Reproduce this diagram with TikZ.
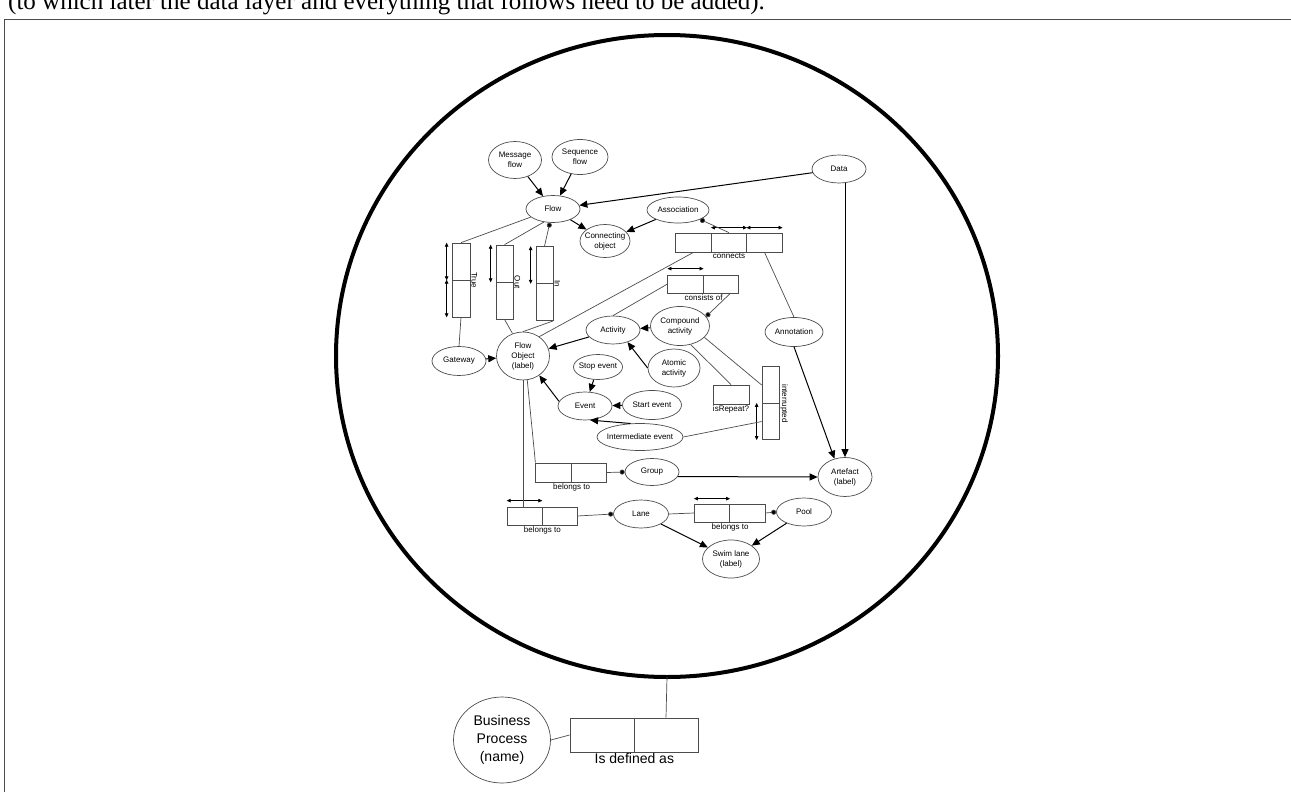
\documentclass[tikz,border=0pt]{standalone}
\usepackage{fontspec}
\setmainfont{Liberation Serif}
\setsansfont{Liberation Sans}
\usepackage{tikz}
\tikzset{every picture/.style={/utils/exec={\sffamily}}}
\usetikzlibrary{positioning, shapes.geometric, arrows.meta}
\definecolor{line_grey}{rgb}{0.3, 0.3, 0.3}
\tikzset{
  concept/.style 2 args={ellipse, draw=line_grey, line width=0.7pt, minimum width=#1pt, minimum height=#2pt,
    inner xsep=-4pt, inner ysep=0pt, align=center, font=\fontsize{8}{10}\selectfont},
  role/.style 2 args={draw=line_grey, line width=0.7pt, minimum width=#1pt, minimum height=#2pt, inner sep=0pt},
  rolename/.style={font=\fontsize{8}{10}\selectfont, inner sep=1pt},
  isa/.style={-{Triangle[length=8pt, width=7pt]}, line width=1pt},
  has/.style={-{Circle[length=5pt, fill=black]}, line width=0.7pt, line_grey},
  link/.style={line width=0.7pt, line_grey},
  span/.style={{Triangle[length=4pt, width=3.5pt]}-{Triangle[length=4pt, width=3.5pt]}, line width=0.7pt}
}

\begin{document}
\begin{tikzpicture}[x=1pt, y=-1pt]
  \useasboundingbox (0,0) rectangle (1291,792);
  % page frame and the cut-off note above it
  \node[anchor=base west, inner sep=0pt, font=\rmfamily\fontsize{25}{30}\selectfont] (note) at (8,10)
    {(to which later the data layer and everything that follows need to be added).};
  \draw[line_grey, line width=1pt] (4,792) -- (4,20) -- (1291,20);

  % the process model
  \node[ellipse, draw, line width=4pt, minimum width=662pt, minimum height=642pt, inner sep=0pt, outer sep=0pt] (model) at (667,356) {};

  \node[concept={53}{37}] (msgflow) at (515,160) {Message\\flow};
  \node[concept={56}{35}] (seqflow) at (580,157) {Sequence\\flow};
  \node[concept={54}{27}] (flow) at (553,209) {Flow};
  \node[concept={50}{33}] (connobj) at (605,241) {Connecting\\object};
  \node[concept={62}{26}] (assoc) at (678,210) {Association};
  \node[concept={54}{28}] (data) at (839,169) {Data};
  \node[concept={54}{28}] (activity) at (613,330) {Activity};
  \node[concept={59}{39}] (compound) at (680,326) {Compound\\activity};
  \node[concept={52}{38}] (atomic) at (674,368) {Atomic\\activity};
  \node[concept={53}{48}] (flowobj) at (523,356) {Flow\\Object\\(label)};
  \node[concept={54}{29}] (gateway) at (459,361) {Gateway};
  \node[concept={49}{25}] (stopev) at (598,367) {Stop event};
  \node[concept={54}{28}] (event) at (585,406) {Event};
  \node[concept={59}{29}] (startev) at (652,405) {Start event};
  \node[concept={86}{27}] (interev) at (640,437) {Intermediate event};
  \node[concept={58}{29}] (annot) at (794,332) {Annotation};
  \node[concept={54}{39}] (artefact) at (845,477) {Artefact\\(label)};
  \node[concept={54}{27}] (group) at (652,472) {Group};
  \node[concept={55}{28}] (lane) at (641,514) {Lane};
  \node[concept={55}{28}] (pool) at (804,512) {Pool};
  \node[concept={57}{38}] (swimlane) at (731,559) {Swim lane\\(label)};

  % role boxes
  \node[role={35.5}{19}] (con1) at (693.5,242.5) {};
  \node[role={35.5}{19}] (con2) at (729,242.5) {};
  \node[role={35.5}{19}] (con3) at (764.5,242.5) {};
  \node[rolename, below=0pt of con2] (conname) {connects};
  \node[role={35.5}{18}] (cns1) at (685.5,284) {};
  \node[role={35.5}{18}] (cns2) at (721,284) {};
  \node[rolename, below=0pt of cns1.south east] (cnsname) {consists of};
  \node[role={35.5}{19}] (bel1a) at (553.5,472.5) {};
  \node[role={35.5}{19}] (bel1b) at (589,472.5) {};
  \node[rolename, below=0pt of bel1a.south east] (bel1name) {belongs to};
  \node[role={35}{18}] (bel2a) at (524.5,516) {};
  \node[role={35}{18}] (bel2b) at (559.5,516) {};
  \node[rolename, below=0pt of bel2a.south east] (bel2name) {belongs to};
  \node[role={35.5}{18}] (bel3a) at (712,513) {};
  \node[role={35.5}{18}] (bel3b) at (747.5,513) {};
  \node[rolename, below=0pt of bel3a.south east] (bel3name) {belongs to};
  \node[role={36}{19}] (rep) at (731,394.5) {};
  \node[rolename, below=0pt of rep] (repname) {isRepeat?};
  \node[role={17}{36.5}] (int1) at (770.5,385) {};
  \node[role={17}{36.5}] (int2) at (770.5,421.5) {};
  \node[rolename, rotate=-90, anchor=south] (intname) at (int1.south east) {interrupted};
  \node[role={18}{37}] (tru1) at (461,261.5) {};
  \node[role={18}{37}] (tru2) at (461,298.5) {};
  \node[rolename, rotate=-90, anchor=south] (truname) at (tru1.south east) {True};
  \node[role={17}{37}] (out1) at (504.5,263.5) {};
  \node[role={17}{37}] (out2) at (504.5,300.5) {};
  \node[rolename, rotate=-90, anchor=south] (outname) at (out1.south east) {Out};
  \node[role={17}{37}] (in1) at (544.5,265) {};
  \node[role={17}{37}] (in2) at (544.5,302) {};
  \node[rolename, rotate=-90, anchor=south] (inname) at (in1.south east) {In};

  % spans over the roles
  \draw[span] ([yshift=5pt]con2.north west) -- ([yshift=5pt]con2.north east);
  \draw[span] ([yshift=5pt]con3.north west) -- ([yshift=5pt]con3.north east);
  \draw[span] ([yshift=6pt]cns1.north west) -- ([yshift=6pt]cns1.north east);
  \draw[span] ([yshift=6pt]bel2a.north west) -- ([yshift=6pt]bel2a.north east);
  \draw[span] ([yshift=5pt]bel3a.north west) -- ([yshift=5pt]bel3a.north east);
  \draw[span] ([xshift=-5pt]tru1.north west) -- ([xshift=-5pt]tru1.south west);
  \draw[span] ([xshift=-5pt]tru2.north west) -- ([xshift=-5pt]tru2.south west);
  \draw[span] ([xshift=-5pt]out1.north west) -- ([xshift=-5pt]out1.south west);
  \draw[span] ([xshift=-5pt]in1.north west) -- ([xshift=-5pt]in1.south west);
  \draw[span] ([xshift=-5pt]int2.north west) -- ([xshift=-5pt]int2.south west);

  % subtypes
  \draw[isa] (msgflow) -- (flow);
  \draw[isa] (seqflow) -- (flow);
  \draw[isa] (data) -- (flow);
  \draw[isa] (flow) -- (connobj);
  \draw[isa] (assoc) -- (connobj);
  \draw[isa] (data.south -| artefact.north) -- (artefact.north);
  \draw[isa] (annot.south) -- (artefact.120);
  \draw[isa] (group.-10) -- (artefact.west);
  \draw[isa] (gateway) -- (flowobj);
  \draw[isa] (activity) -- (flowobj);
  \draw[isa] (event.170) -- (flowobj.-50);
  \draw[isa] (compound) -- (activity);
  \draw[isa] (atomic.west) -- (activity.-40);
  \draw[isa] (stopev) -- (event);
  \draw[isa] (startev) -- (event);
  \draw[isa] (interev.125) -- (event.-70);
  \draw[isa] (lane) -- (swimlane);
  \draw[isa] (pool) -- (swimlane);

  % roles played
  \draw[link] (flow.200) -- (tru1.north);
  \draw[link] (flow.235) -- (out1.north);
  \draw[has] (in1.north) -- (flow);
  \draw[link] (tru2.south) -- (gateway.north);
  \draw[link] (out2.south) -- (flowobj.115);
  \draw[link] (in2.south east) -- (flowobj.north);
  \draw[has] (con2.north) -- (assoc.south east);
  \draw[link] (con1.south) -- (flowobj.50);
  \draw[link] (con3.south) -- (annot.north);
  \draw[link] (cns1.west) -- (activity.north);
  \draw[has] (cns2.-45) -- (compound.20);
  \draw[link] (compound.-60) -- (rep.north);
  \draw[link] (compound.-25) -- (int1.west);
  \draw[link] (interev.east) -- (int2.west);
  \draw[link] (flowobj.-80) -- (bel1a.north west);
  \draw[has] (bel1b.east) -- (group.west);
  \draw[link] (flowobj.south) -- (flowobj.south |- bel2a.north);
  \draw[has] (bel2b.east) -- (lane.west);
  \draw[link] (lane.east) -- (bel3a.west);
  \draw[has] (bel3b.east) -- (pool.west);

  % the process and its definition
  \node[concept={97}{86}, font=\fontsize{14}{18}\selectfont] (bproc) at (502,740) {Business\\Process\\(name)};
  \node[role={64}{34}] (def1) at (602,735) {};
  \node[role={64}{34}] (def2) at (666,735) {};
  \node[inner sep=0pt, anchor=north, font=\fontsize{14}{16}\selectfont] (defname) at ([yshift=-1pt]def1.south east) {Is defined as};
  \draw[link] (bproc.east) -- (def1.west);
  \draw[link] (def2.north) -- (model.south);
\end{tikzpicture}
\end{document}
